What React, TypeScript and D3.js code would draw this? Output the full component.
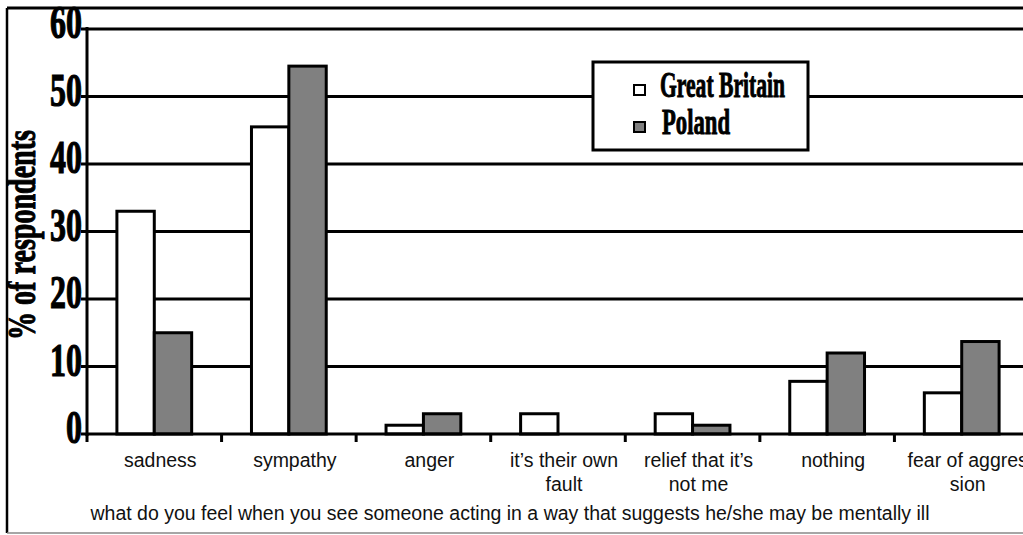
import React from "react";
import * as d3 from "d3";

// Survey responses: "what do you feel when you see someone acting in a way
// that suggests he/she may be mentally ill" (% of respondents)
const categories = [
  "sadness",
  "sympathy",
  "anger",
  "it’s their own fault",
  "relief that it’s not me",
  "nothing",
  "fear of aggression",
];
const categoryLines = [
  ["sadness"],
  ["sympathy"],
  ["anger"],
  ["it’s their own", "fault"],
  ["relief that it’s", "not me"],
  ["nothing"],
  ["fear of aggres", "sion"],
];
const seriesNames = ["Great Britain", "Poland"];
const greatBritain = [33, 45.5, 1.3, 3, 3, 7.8, 6.1];
const poland = [15, 54.5, 3, 0, 1.3, 12, 13.7];
const yTicks = [0, 10, 20, 30, 40, 50, 60];
const xTitle =
  "what do you feel when you see someone acting in a way that suggests he/she may be mentally ill";
const yTitle = "% of respondents";

const W = 1023;
const H = 535;
const plot = { left: 87, right: 1029, top: 29, bottom: 434 };
const fills = ["#ffffff", "#808080"];
const values = [greatBritain, poland];

const x = d3.scaleBand<string>().domain(categories).range([plot.left, plot.right]).padding(0);
const sub = d3
  .scaleBand<string>()
  .domain(seriesNames)
  .range([0, x.bandwidth()])
  .paddingInner(0)
  .paddingOuter(0.8);
const y = d3.scaleLinear().domain([0, 60]).range([plot.bottom, plot.top]);

const heavy = "'Liberation Serif', 'Times New Roman', serif";
const sans = "'Liberation Sans', Arial, sans-serif";

export default function App() {
  const boundaries = categories.map((c) => x(c) as number);
  return (
    <svg
      width={W}
      height={H}
      style={{ position: "absolute", left: 0, top: 0, background: "#fff" }}
    >
      {/* outer frame */}
      <line x1={7} y1={8} x2={W} y2={8} stroke="#000" strokeWidth={3} />
      <line x1={7} y1={8} x2={7} y2={533} stroke="#000" strokeWidth={2.5} />
      <line x1={7} y1={533} x2={W} y2={533} stroke="#888" strokeWidth={1.5} />

      {/* gridlines */}
      {yTicks.slice(1).map((t) => (
        <line key={t} x1={plot.left} x2={W} y1={y(t)} y2={y(t)} stroke="#000" strokeWidth={3} />
      ))}

      {/* bars */}
      {categories.map((c, i) =>
        seriesNames.map((s, j) => {
          const v = values[j][i];
          if (v <= 0) return null;
          const bx = (x(c) as number) + (sub(s) as number);
          return (
            <rect
              key={c + s}
              x={bx}
              y={y(v)}
              width={sub.bandwidth()}
              height={y(0) - y(v)}
              fill={fills[j]}
              stroke="#000"
              strokeWidth={3}
            />
          );
        })
      )}

      {/* axes */}
      <line x1={plot.left} x2={plot.left} y1={plot.top - 2} y2={plot.bottom + 2} stroke="#000" strokeWidth={3} />
      <line x1={plot.left} x2={W} y1={plot.bottom} y2={plot.bottom} stroke="#000" strokeWidth={3} />
      {yTicks.map((t) => (
        <line key={"yt" + t} x1={81} x2={plot.left} y1={y(t)} y2={y(t)} stroke="#000" strokeWidth={3} />
      ))}
      {boundaries.map((bx, i) => (
        <line key={"xt" + i} x1={bx} x2={bx} y1={plot.bottom} y2={plot.bottom + 8} stroke="#000" strokeWidth={3} />
      ))}

      {/* y tick labels */}
      {yTicks.map((t) => (
        <text
          key={"yl" + t}
          transform={`translate(82,${y(t) + 9}) scale(0.68,1)`}
          textAnchor="end"
          fontFamily={heavy}
          fontWeight="bold"
          fontSize={47}
          fill="#000"
          stroke="#000"
          strokeWidth={1.2}
        >
          {t}
        </text>
      ))}

      {/* y axis title */}
      <text
        transform="translate(35,235) rotate(-90)"
        textAnchor="middle"
        fontFamily={heavy}
        fontWeight="bold"
        fontSize={40}
        textLength={210}
        lengthAdjust="spacingAndGlyphs"
        fill="#000"
        stroke="#000"
        strokeWidth={1}
      >
        {yTitle}
      </text>

      {/* category labels */}
      {categories.map((c, i) => (
        <text
          key={"cl" + c}
          x={(x(c) as number) + x.bandwidth() / 2 + 6}
          y={467}
          textAnchor="middle"
          fontFamily={sans}
          fontSize={19.5}
          fill="#111"
        >
          {categoryLines[i].map((ln, k) => (
            <tspan key={k} x={(x(c) as number) + x.bandwidth() / 2 + 6} dy={k === 0 ? 0 : 24}>
              {ln}
            </tspan>
          ))}
        </text>
      ))}

      {/* x axis title */}
      <text x={510} y={520} textAnchor="middle" fontFamily={sans} fontSize={19.5} fill="#111">
        {xTitle}
      </text>

      {/* legend */}
      <rect x={593} y={62} width={215} height={88} fill="#fff" stroke="#000" strokeWidth={3} />
      {seriesNames.map((s, j) => (
        <g key={"lg" + s}>
          <rect
            x={634}
            y={j === 0 ? 85 : 122}
            width={11}
            height={10}
            fill={fills[j]}
            stroke="#000"
            strokeWidth={2}
          />
          <text
            x={j === 0 ? 660 : 662}
            y={j === 0 ? 97 : 134}
            fontFamily={heavy}
            fontWeight="bold"
            fontSize={36}
            textLength={j === 0 ? 125 : 68}
            lengthAdjust="spacingAndGlyphs"
            fill="#000"
            stroke="#000"
            strokeWidth={1}
          >
            {s}
          </text>
        </g>
      ))}
    </svg>
  );
}
